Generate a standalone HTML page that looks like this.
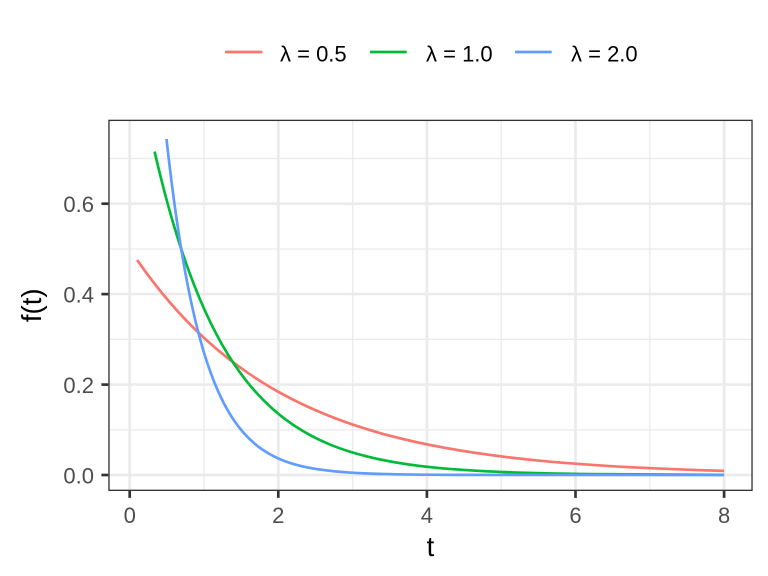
<!DOCTYPE html>
<html>
<head>
<meta charset="utf-8">
<style>
  html, body { margin:0; padding:0; background:#fff; }
  svg { display:block; }
  text { font-family: "Liberation Sans", "DejaVu Sans", sans-serif; }
</style>
</head>
<body>
<svg width="768" height="576" viewBox="0 0 768 576" xmlns="http://www.w3.org/2000/svg">
  <rect x="0" y="0" width="768" height="576" fill="#ffffff"/>

  <!-- panel background -->
  <rect x="108.3" y="119.7" width="644.4" height="371.3" fill="#ffffff"/>

  <g clip-path="url(#clip)">
    <defs>
      <clipPath id="clip"><rect x="108.3" y="119.7" width="644.4" height="371.3"/></clipPath>
    </defs>
    <!-- minor grid -->
    <g stroke="#EBEBEB" stroke-width="1.33" fill="none">
      <line x1="204.0" y1="119.7" x2="204.0" y2="491"/>
      <line x1="352.6" y1="119.7" x2="352.6" y2="491"/>
      <line x1="501.2" y1="119.7" x2="501.2" y2="491"/>
      <line x1="649.8" y1="119.7" x2="649.8" y2="491"/>
      <line x1="108.3" y1="158.5" x2="752.7" y2="158.5"/>
      <line x1="108.3" y1="249.0" x2="752.7" y2="249.0"/>
      <line x1="108.3" y1="339.3" x2="752.7" y2="339.3"/>
      <line x1="108.3" y1="429.8" x2="752.7" y2="429.8"/>
    </g>
    <!-- major grid -->
    <g stroke="#EBEBEB" stroke-width="2.67" fill="none">
      <line x1="129.7" y1="119.7" x2="129.7" y2="491"/>
      <line x1="278.3" y1="119.7" x2="278.3" y2="491"/>
      <line x1="426.9" y1="119.7" x2="426.9" y2="491"/>
      <line x1="575.5" y1="119.7" x2="575.5" y2="491"/>
      <line x1="724.1" y1="119.7" x2="724.1" y2="491"/>
      <line x1="108.3" y1="203.7" x2="752.7" y2="203.7"/>
      <line x1="108.3" y1="294.1" x2="752.7" y2="294.1"/>
      <line x1="108.3" y1="384.6" x2="752.7" y2="384.6"/>
      <line x1="108.3" y1="475.0" x2="752.7" y2="475.0"/>
    </g>

    <!-- series -->
    <g fill="none" stroke-width="2.67" stroke-linejoin="round" stroke-linecap="butt">
      <path stroke="#F8766D" d="M137.13 259.93 C159.42 292.19 181.71 317.29 204.0 337.86 C228.77 360.72 253.53 377.96 278.3 391.82 C315.45 412.62 352.6 425.89 389.75 435.71 C439.28 448.81 488.82 455.73 538.35 460.55 C600.27 466.57 662.18 469.13 724.1 470.86"/>
      <path stroke="#00BA38" d="M154.59 151.52 C166.11 201.66 177.62 240.32 189.14 271.81 C204.0 312.45 218.86 341.19 233.72 363.49 C253.53 393.23 273.35 411.54 293.16 424.90 C317.93 441.60 342.69 450.43 367.46 456.57 C402.13 465.17 436.81 468.34 471.48 470.455 C511.11 472.88 550.73 473.59 590.36 474.08 C634.94 474.63 679.52 474.76 724.1 474.85"/>
      <path stroke="#619CFF" d="M166.48 138.94 C172.80 196.07 179.11 238.89 185.43 273.20 C192.86 313.56 200.29 342.10 207.72 364.25 C216.39 390.09 225.05 407.17 233.72 420.00 C243.63 434.67 253.53 443.70 263.44 450.29 C278.30 460.17 293.16 464.58 308.02 467.56 C327.83 471.53 347.65 472.70 367.46 473.50 C399.66 474.80 431.85 474.79 464.05 474.89 L724.1 475.0"/>
    </g>
  </g>

  <!-- panel border -->
  <rect x="108.97" y="120.37" width="643.06" height="369.96" fill="none" stroke="#333333" stroke-width="1.33"/>

  <!-- ticks -->
  <g stroke="#333333" stroke-width="2.67">
    <line x1="101.4" y1="203.7" x2="108.3" y2="203.7"/>
    <line x1="101.4" y1="294.1" x2="108.3" y2="294.1"/>
    <line x1="101.4" y1="384.6" x2="108.3" y2="384.6"/>
    <line x1="101.4" y1="475.0" x2="108.3" y2="475.0"/>
    <line x1="129.7" y1="491" x2="129.7" y2="497.9"/>
    <line x1="278.3" y1="491" x2="278.3" y2="497.9"/>
    <line x1="426.9" y1="491" x2="426.9" y2="497.9"/>
    <line x1="575.5" y1="491" x2="575.5" y2="497.9"/>
    <line x1="724.1" y1="491" x2="724.1" y2="497.9"/>
  </g>

  <!-- tick labels -->
  <g fill="#4D4D4D" font-size="22" text-anchor="end">
    <text x="94" y="212.2">0.6</text>
    <text x="94" y="302.6">0.4</text>
    <text x="94" y="393.1">0.2</text>
    <text x="94" y="483.5">0.0</text>
  </g>
  <g fill="#4D4D4D" font-size="22" text-anchor="middle">
    <text x="129.7" y="523">0</text>
    <text x="278.3" y="523">2</text>
    <text x="426.9" y="523">4</text>
    <text x="575.5" y="523">6</text>
    <text x="724.1" y="523">8</text>
  </g>

  <!-- axis titles -->
  <text x="430.5" y="556" font-size="27.5" text-anchor="middle" fill="#000">t</text>
  <text transform="translate(41,305.3) rotate(-90)" font-size="27.5" text-anchor="middle" fill="#000">f(t)</text>

  <!-- legend -->
  <g stroke-width="2.67">
    <line x1="225" y1="52" x2="262.3" y2="52" stroke="#F8766D"/>
    <line x1="370" y1="52" x2="406.7" y2="52" stroke="#00BA38"/>
    <line x1="515" y1="52" x2="551.7" y2="52" stroke="#619CFF"/>
  </g>
  <g fill="#000" font-size="22">
    <text x="280" y="61.7">λ = 0.5</text>
    <text x="426" y="61.7">λ = 1.0</text>
    <text x="571" y="61.7">λ = 2.0</text>
  </g>
</svg>
</body>
</html>
